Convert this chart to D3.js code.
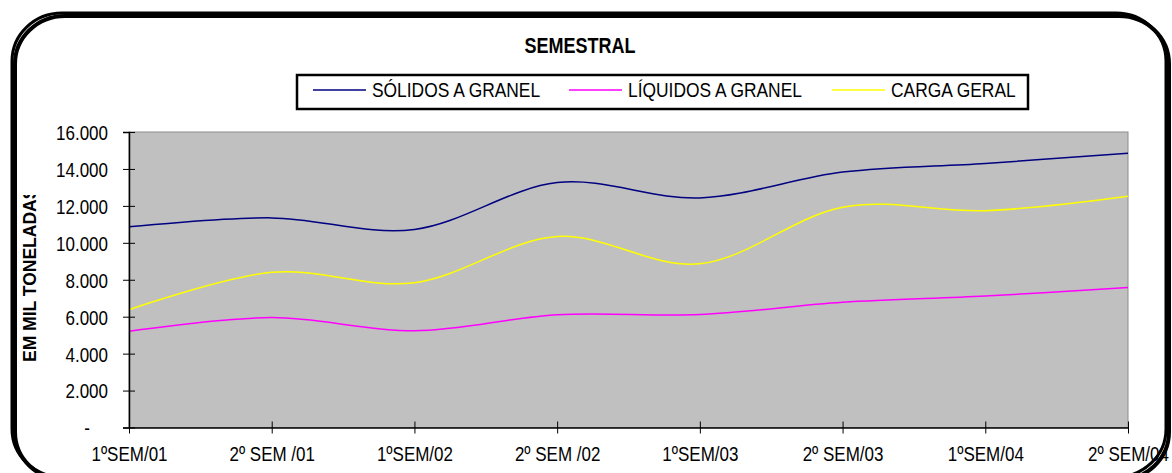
<!DOCTYPE html>
<html>
<head>
<meta charset="utf-8">
<script src="https://cdn.jsdelivr.net/npm/d3@7/dist/d3.min.js"></script>
<style>
  body { margin: 0; background: #fff; }
  svg { display: block; font-family: "Liberation Sans", Arial, sans-serif; }
</style>
</head>
<body>
<svg id="chart" width="1172" height="473"></svg>
<script>
'use strict'
// semestral cargo, thousand tonnes
const categories = ['1ºSEM/01', '2º SEM /01', '1ºSEM/02', '2º SEM /02', '1ºSEM/03', '2º SEM/03', '1ºSEM/04', '2º SEM/04'];
const seriesNames = ['SÓLIDOS A GRANEL', 'LÍQUIDOS A GRANEL', 'CARGA GERAL'];
const solidos = [10870, 11350, 10720, 13260, 12430, 13830, 14300, 14850];
const liquidos = [5210, 5950, 5240, 6110, 6120, 6780, 7120, 7580];
const carga = [6380, 8400, 7840, 10340, 8860, 11930, 11740, 12520];
const yTicks = [0, 2000, 4000, 6000, 8000, 10000, 12000, 14000, 16000];
const yTickLabels = ['-', '2.000', '4.000', '6.000', '8.000', '10.000', '12.000', '14.000', '16.000'];

const colors = ['#000080', '#ff00ff', '#ffff00'];
const series = [solidos, liquidos, carga];
const SY = 1.18; // the original picture is stretched a bit vertically

const svg = d3.select('#chart');
const plot = {left: 129, right: 1128, top: 132, bottom: 427.5};

// put text at its x,y but taller than wide
function stretch(sel) {
  sel.each(function() {
    const t = d3.select(this);
    const tx = +t.attr('x') || 0, ty = +t.attr('y') || 0;
    t.attr('x', 0).attr('y', 0)
      .attr('transform', 'translate(' + tx + ',' + ty + ') scale(1,' + SY + ')');
  });
}

const x = d3.scalePoint()
  .domain(categories)
  .range([plot.left, plot.right]);
const y = d3.scaleLinear()
  .domain([0, 16000])
  .range([plot.bottom, plot.top]);

// plot background
svg.append('rect')
  .attr('x', plot.left).attr('y', plot.top)
  .attr('width', plot.right - plot.left).attr('height', plot.bottom - plot.top)
  .attr('fill', '#c0c0c0')
  .attr('stroke', '#8c8c8c').attr('stroke-width', 1);

// lines - excel style smoothing
const line = d3.line()
  .x((d, i) => x(categories[i]))
  .y(d => y(d))
  .curve(d3.curveCardinal.tension(0));

svg.append('g').selectAll('path')
  .data(series)
  .enter().append('path')
  .attr('d', d => line(d))
  .attr('fill', 'none')
  .attr('stroke', (d, i) => colors[i])
  .attr('stroke-width', 1.5);

// y axis
const yAxis = svg.append('g')
  .attr('transform', 'translate(' + plot.left + ',0)')
  .call(d3.axisLeft(y).tickValues(yTicks).tickSize(6)
    .tickFormat((d, i) => yTickLabels[i]));
yAxis.select('.domain').attr('stroke', '#000').attr('stroke-width', 1.5);
yAxis.selectAll('.tick line').attr('x1', -6).attr('x2', 6).attr('stroke', '#000');
yAxis.selectAll('.tick text')
  .attr('font-size', 17).attr('fill', '#000')
  .attr('font-family', '"Liberation Sans", Arial, sans-serif')
  .attr('x', (d) => d === 0 ? -39 : -21)
  .attr('y', 1)
  .call(stretch);

// x axis
const xAxis = svg.append('g')
  .attr('transform', 'translate(0,' + plot.bottom + ')')
  .call(d3.axisBottom(x).tickSize(6).tickSizeOuter(0).tickPadding(13));
xAxis.select('.domain').attr('stroke', '#000').attr('stroke-width', 1.5);
xAxis.selectAll('.tick line').attr('y1', -6).attr('y2', 6).attr('stroke', '#000');
xAxis.selectAll('.tick text')
  .attr('font-size', 17).attr('fill', '#000')
  .attr('font-family', '"Liberation Sans", Arial, sans-serif')
  .call(stretch);

// title
svg.append('text')
  .attr('x', 580).attr('y', 53)
  .attr('text-anchor', 'middle')
  .attr('font-size', 18).attr('font-weight', 'bold')
  .text('SEMESTRAL')
  .call(stretch);

// y axis title, cut off at the top like the original
svg.append('clipPath').attr('id', 'ytclip')
  .append('rect').attr('x', 0).attr('y', 195).attr('width', 60).attr('height', 220);
svg.append('g')
  .attr('clip-path', 'url(#ytclip)')
  .append('text')
  .attr('transform', 'translate(36,362) rotate(-90)')
  .attr('font-size', 17.5).attr('font-weight', 'bold')
  .text('EM MIL TONELADAS');

// legend
const legendBox = {x: 297, y: 75, w: 731, h: 34};
svg.append('rect')
  .attr('x', legendBox.x).attr('y', legendBox.y)
  .attr('width', legendBox.w).attr('height', legendBox.h)
  .attr('fill', '#fff').attr('stroke', '#000').attr('stroke-width', 2.5);
const legendX = [313, 569, 832];
const legend = svg.append('g').selectAll('g')
  .data(seriesNames)
  .enter().append('g')
  .attr('transform', (d, i) => 'translate(' + legendX[i] + ',90)');
legend.append('line')
  .attr('x1', 0).attr('x2', 53)
  .attr('stroke', (d, i) => colors[i]).attr('stroke-width', 1.5);
legend.append('text')
  .attr('x', 59).attr('y', 7)
  .attr('font-size', 17.4)
  .text(d => d)
  .call(stretch);

// rounded frame with a drop shadow
svg.append('rect')
  .attr('x', 15).attr('y', 16).attr('width', 1154).attr('height', 464)
  .attr('rx', 50).attr('ry', 48)
  .attr('fill', 'none').attr('stroke', '#000').attr('stroke-width', 4);
svg.append('rect')
  .attr('x', 12).attr('y', 13).attr('width', 1154).attr('height', 464)
  .attr('rx', 50).attr('ry', 48)
  .attr('fill', 'none').attr('stroke', '#000').attr('stroke-width', 3);
</script>
</body>
</html>
